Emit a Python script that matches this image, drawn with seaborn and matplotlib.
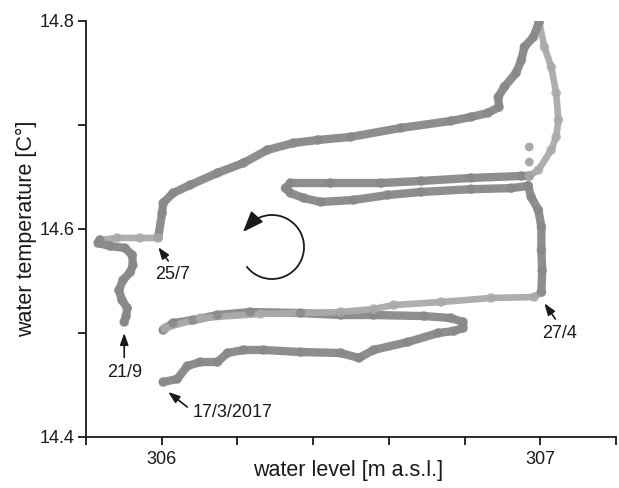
import matplotlib
matplotlib.use("Agg")
import matplotlib.pyplot as plt
from matplotlib.patches import Arc
import seaborn as sns
import numpy as np

# ---- data (water level [m a.s.l.], water temperature [°C]) ----
# March-April lower loop (dark)
lvl_spring = [306.004, 306.041, 306.068, 306.102, 306.147, 306.174, 306.216, 306.269, 306.367,
              306.473, 306.521, 306.560, 306.650, 306.730, 306.772, 306.796, 306.796, 306.764,
              306.693, 306.560, 306.473, 306.367, 306.234, 306.147, 306.083, 306.030, 306.004]
tmp_spring = [14.4526, 14.4555, 14.4680, 14.4718, 14.4718, 14.4805, 14.4834, 14.4834, 14.4814,
              14.4805, 14.4757, 14.4834, 14.4910, 14.4997, 14.5016, 14.5045, 14.5103, 14.5141,
              14.5160, 14.5170, 14.5170, 14.5189, 14.5199, 14.5170, 14.5122, 14.5093, 14.5026]
# return to 27/4 (light)
lvl_apr = [306.009, 306.102, 306.261, 306.473, 306.560, 306.613, 306.738, 306.870, 306.984, 307.003]
tmp_apr = [14.5045, 14.5141, 14.5180, 14.5199, 14.5228, 14.5266, 14.5295, 14.5334, 14.5343, 14.5391]
# rise after 27/4 (dark)
lvl_rise = [307.003, 307.005, 307.003, 307.003, 306.995, 306.976, 306.968]
tmp_rise = [14.5391, 14.5599, 14.5795, 14.6016, 14.6180, 14.6305, 14.6411]
# middle loop (May)
lvl_may = [306.968, 306.923, 306.817, 306.685, 306.597, 306.507, 306.420, 306.375, 306.340,
           306.327, 306.340, 306.446, 306.579, 306.685, 306.817, 306.950, 306.971]
tmp_may = [14.6411, 14.6390, 14.6380, 14.6353, 14.6324, 14.6276, 14.6257, 14.6295, 14.6343,
           14.6390, 14.6439, 14.6439, 14.6439, 14.6459, 14.6488, 14.6507, 14.6507]
# climb to the 13/6 maximum (light)
lvl_jun = [306.971, 306.995, 307.029, 307.042, 307.048, 307.042, 307.029, 307.011, 306.997]
tmp_jun = [14.6507, 14.6564, 14.6757, 14.6882, 14.7045, 14.7305, 14.7555, 14.7747, 14.7988]
# single outliers
lvl_out = [306.971, 306.971]
tmp_out = [14.6786, 14.6641]
# summer decline to 25/7 (dark)
lvl_sum = [306.997, 306.982, 306.958, 306.950, 306.936, 306.905, 306.889, 306.891, 306.862,
           306.817, 306.764, 306.632, 306.499, 306.412, 306.348, 306.279, 306.216, 306.147,
           306.075, 306.030, 306.004, 306.001, 305.991]
tmp_sum = [14.7988, 14.7843, 14.7747, 14.7622, 14.7497, 14.7363, 14.7266, 14.7170, 14.7113,
           14.7074, 14.7036, 14.6969, 14.6882, 14.6853, 14.6824, 14.6757, 14.6632, 14.6536,
           14.6420, 14.6343, 14.6247, 14.6150, 14.5920]
# drawdown after 25/7 (light)
lvl_aug = [305.991, 305.943, 305.882, 305.837]
tmp_aug = [14.5911, 14.5911, 14.5911, 14.5891]
# hook down to 21/9 (dark)
lvl_sep = [305.837, 305.832, 305.864, 305.903, 305.922, 305.924, 305.917, 305.898, 305.887,
           305.895, 305.909, 305.906, 305.901]
tmp_sep = [14.5891, 14.5862, 14.5833, 14.5814, 14.5747, 14.5650, 14.5583, 14.5507, 14.5410,
           14.5314, 14.5237, 14.5160, 14.5103]

x_ticks = [305.8, 306.0, 306.2, 306.4, 306.6, 306.8, 307.0, 307.2]
x_ticklabels = ["", "306", "", "", "", "", "307", ""]
y_ticks = [14.4, 14.5, 14.6, 14.7, 14.8]
y_ticklabels = ["14.4", "", "14.6", "", "14.8"]

ann_text = ["13/6", "25/7", "21/9", "17/3/2017", "27/4"]
ann_xy = [(306.982, 14.8005), (305.991, 14.5822), (305.901, 14.4997), (306.017, 14.4430), (307.011, 14.5283)]
ann_txt_xy = [(306.897, 14.8005), (306.028, 14.5555), (305.901, 14.4622), (306.082, 14.4228), (307.050, 14.4997)]
ann_ha = ["right", "center", "center", "left", "center"]
ann_relpos = [(1.0, 0.5), (0.5, 1.0), (0.5, 1.0), (0.0, 0.6), (0.5, 1.0)]

# ---- style ----
sns.set_style("ticks")
plt.rcParams["font.family"] = ["Liberation Sans", "DejaVu Sans"]

fig = plt.figure(figsize=(6.19, 4.88), dpi=100)
ax = fig.add_axes([0.1389, 0.1051, 0.8562, 0.8525])

DARK = "#888888"
LIGHT = "#aaaaaa"

segments = [
    (lvl_spring, tmp_spring, DARK),
    (lvl_apr, tmp_apr, LIGHT),
    (lvl_rise, tmp_rise, DARK),
    (lvl_may, tmp_may, DARK),
    (lvl_jun, tmp_jun, LIGHT),
    (lvl_sum, tmp_sum, DARK),
    (lvl_aug, tmp_aug, LIGHT),
    (lvl_sep, tmp_sep, DARK),
]
for xs, ys, c in segments:
    lw = 6.0 if c == DARK else 4.8
    sns.lineplot(x=xs, y=ys, sort=False, estimator=None, color=c, linewidth=lw,
                 alpha=0.95, solid_capstyle="round", solid_joinstyle="round", ax=ax)
    sns.scatterplot(x=xs, y=ys, color=c, s=48, alpha=0.8, edgecolor="none", ax=ax, zorder=3)
sns.scatterplot(x=lvl_out, y=tmp_out, color=LIGHT, s=40, edgecolor="none", ax=ax)

ax.set_xlim(305.8, 307.2)
ax.set_ylim(14.4, 14.8)
ax.set_xticks(x_ticks)
ax.set_xticklabels(x_ticklabels)
ax.set_yticks(y_ticks)
ax.set_yticklabels(y_ticklabels)
sns.despine(ax=ax)
for s in ("left", "bottom"):
    ax.spines[s].set_linewidth(1.3)
    ax.spines[s].set_color("#1a1a1a")
ax.tick_params(axis="both", length=5.5, width=1.3, color="#1a1a1a", labelsize=13,
               labelcolor="#1a1a1a")
ax.tick_params(axis="x", pad=5)
ax.tick_params(axis="y", pad=3)

ax.set_xlabel("water level [m a.s.l.]", fontsize=15.5, color="#1a1a1a")
ax.set_ylabel("water temperature [C°]", fontsize=15.5, color="#1a1a1a")
ax.xaxis.set_label_coords(0.495, -0.055)
ax.yaxis.set_label_coords(-0.093, 0.5)

for t, xy, txy, ha, rp in zip(ann_text, ann_xy, ann_txt_xy, ann_ha, ann_relpos):
    ax.annotate(t, xy=xy, xytext=txy, ha=ha, va="center", fontsize=13, color="#1a1a1a",
                arrowprops=dict(arrowstyle="-|>,head_length=0.7,head_width=0.25",
                                mutation_scale=10, lw=1.2, color="#1a1a1a",
                                shrinkA=2, shrinkB=0, relpos=rp))

# circular arrow indicating the counter-clockwise cycle
arc = Arc((0.351, 0.456), 0.1208, 0.1538, theta1=-136, theta2=122,
          transform=ax.transAxes, lw=1.3, color="#1a1a1a")
ax.add_patch(arc)
ax.annotate("", xy=((243 - 86) / 530, (436.7 - 232) / 416),
            xytext=((254 - 86) / 530, (436.7 - 220) / 416),
            xycoords="axes fraction", textcoords="axes fraction",
            arrowprops=dict(arrowstyle="-|>,head_length=0.65,head_width=0.25",
                            mutation_scale=20, lw=1.2, color="#1a1a1a",
                            shrinkA=0, shrinkB=0))

fig.savefig("out.png", dpi=100)
